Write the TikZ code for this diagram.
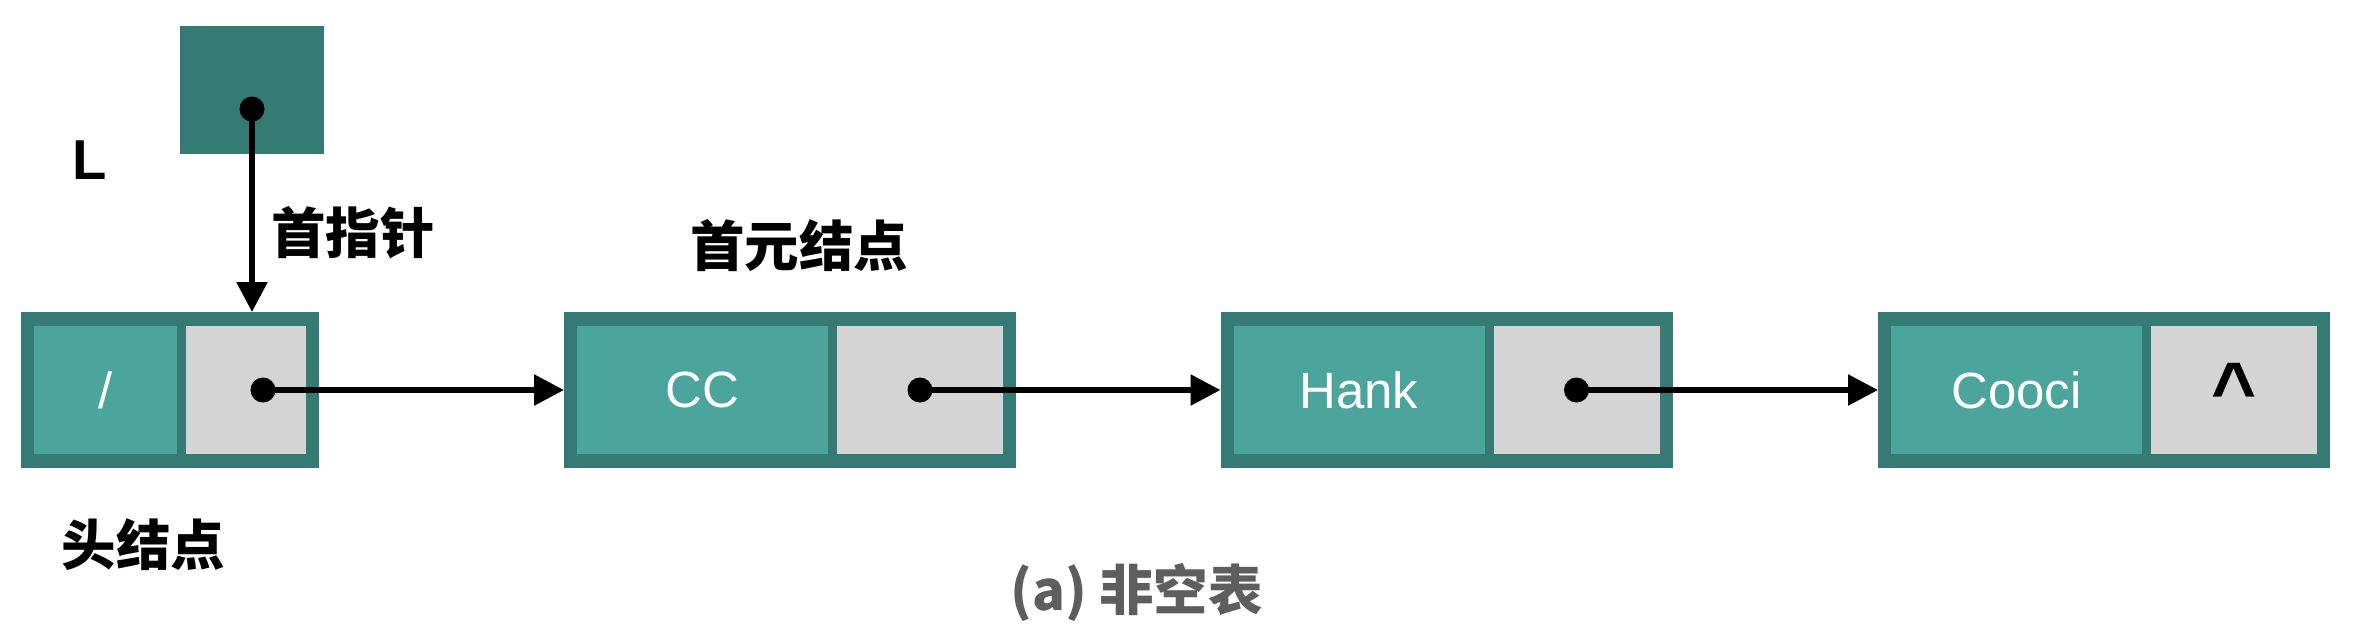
\documentclass[tikz,border=0pt]{standalone}
\usepackage{fontspec}
\setmainfont{Liberation Sans}
\newfontfamily\cjk{Noto Sans CJK SC}
\usetikzlibrary{positioning, arrows.meta, fit, backgrounds}
\definecolor{tealdark}{HTML}{367A75}
\definecolor{teallight}{HTML}{4BA59C}
\definecolor{cellgray}{HTML}{D4D4D4}
\definecolor{captiongray}{HTML}{5E5E5E}

\begin{document}
\begin{tikzpicture}[
  every node/.style={inner sep=0pt, outer sep=0pt},
  datacell/.style={
    fill=teallight,
    minimum height=1.28cm,
    minimum width=2.51cm,
    text=white,
    font=\fontsize{14.5}{17}\selectfont,
  },
  ptrcell/.style={
    fill=cellgray,
    minimum height=1.28cm,
    minimum width=1.66cm,
  },
  nodeframe/.style={
    fill=tealdark,
    inner xsep=0.13cm,
    inner ysep=0.14cm,
  },
  cnlabel/.style={
    font=\cjk\bfseries\fontsize{15.5}{18}\selectfont,
  },
  ptrdot/.style={
    circle, fill=black, minimum size=0.25cm,
  },
  link/.style={
    -{Triangle[length=3mm, width=3mm]},
    line width=1.6pt,
  },
]
  \useasboundingbox (0,0) rectangle (23.54,-6.28);

  % list cells
  \node[datacell, minimum width=1.43cm] (headdata) at (1.055,-3.90) {/};
  \node[ptrcell, minimum width=1.20cm, right=0.09cm of headdata] (headptr) {};
  \node[datacell, right=2.71cm of headptr] (ccdata) {CC};
  \node[ptrcell, right=0.09cm of ccdata] (ccptr) {};
  \node[datacell, right=2.305cm of ccptr] (hankdata) {Hank};
  \node[ptrcell, right=0.09cm of hankdata] (hankptr) {};
  \node[datacell, right=2.315cm of hankptr] (coocidata) {Cooci};
  \node[ptrcell, right=0.09cm of coocidata,
        font=\bfseries\fontsize{22}{24}\selectfont] (coociptr) {\textasciicircum};

  \begin{scope}[on background layer]
    \node[nodeframe, fit=(headdata) (headptr)] (headframe) {};
    \node[nodeframe, fit=(ccdata) (ccptr)] (ccframe) {};
    \node[nodeframe, fit=(hankdata) (hankptr)] (hankframe) {};
    \node[nodeframe, fit=(coocidata) (coociptr)] (coociframe) {};
  \end{scope}

  % head pointer L
  \node[fill=tealdark, minimum width=1.44cm, minimum height=1.28cm] (Lbox) at (2.52,-0.90) {};
  \node[ptrdot] (Ldot) at ([yshift=-0.19cm]Lbox.center) {};
  \node[font=\bfseries\fontsize{16}{18}\selectfont] (Llabel) at (0.895,-1.605) {L};

  % labels
  \node[cnlabel] (firstptr) at (3.53,-2.33) {首指针};
  \node[cnlabel] (firstnode) at (7.99,-2.46) {首元结点};
  \node[cnlabel] (headlabel) at (1.435,-5.45) {头结点};
  \node[cnlabel, text=captiongray] (caption) at (11.365,-5.925) {(a) 非空表};

  \node[ptrdot] (headdot) at ([xshift=0.17cm]headptr.center) {};
  \node[ptrdot] (ccdot) at (ccptr.center) {};
  \node[ptrdot] (hankdot) at (hankptr.center) {};

  \draw[link] (Ldot.center) -- (Ldot.center |- headframe.north);
  \draw[link] (headdot.center) -- (headdot.center -| ccframe.west);
  \draw[link] (ccdot.center) -- (ccdot.center -| hankframe.west);
  \draw[link] (hankdot.center) -- (hankdot.center -| coociframe.west);
\end{tikzpicture}
\end{document}
